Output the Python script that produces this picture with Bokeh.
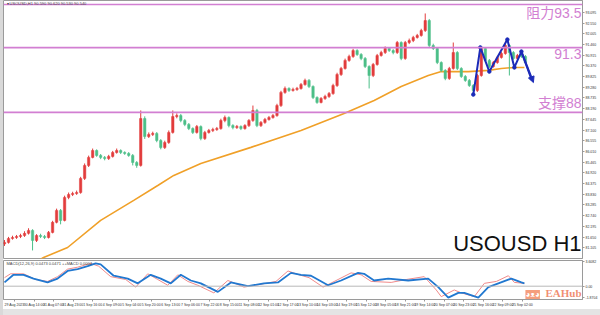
from bokeh.plotting import figure
from bokeh.models import (ColumnDataSource, Range1d, FixedTicker, Span, Label,
                          Arrow, NormalHead, Div, PrintfTickFormatter)
from bokeh.layouts import column, row
from bokeh.embed import file_html
from bokeh.resources import INLINE

# ---------------- data ----------------
first_open = 81.30
closes = [81.38, 81.58, 81.63, 81.68, 81.73, 81.84, 81.99, 81.48, 81.73, 81.68,
          81.63, 81.89, 82.40, 83.01, 82.50, 83.67, 83.82, 83.87, 83.92, 84.64,
          85.30, 85.71, 86.06, 85.81, 85.71, 85.65, 85.76, 85.96, 86.06, 85.96,
          85.91, 85.81, 85.45, 85.30, 87.69, 86.77, 86.88, 86.93, 86.57, 86.21,
          86.47, 86.98, 87.79, 87.84, 87.59, 87.39, 87.18, 86.98, 87.28, 86.67,
          86.98, 87.08, 87.13, 87.18, 87.59, 87.74, 87.33, 87.23, 87.28, 87.18,
          87.33, 87.59, 88.10, 87.33, 87.49, 87.64, 87.74, 87.84, 88.35, 89.02,
          89.22, 89.12, 89.17, 89.22, 89.42, 89.63, 89.32, 88.76, 88.51, 88.71,
          88.81, 88.96, 89.37, 89.93, 90.24, 90.65, 90.85, 91.15, 90.95, 90.75,
          90.34, 89.88, 90.44, 90.90, 91.05, 91.26, 91.15, 91.05, 91.56, 90.75,
          91.56, 91.66, 91.82, 91.92, 92.17, 92.68, 91.41, 91.26, 90.54, 90.14,
          89.73, 90.24, 91.05, 90.24, 89.83, 89.63, 89.37, 89.12, 89.88, 91.26,
          90.65, 90.34, 90.54, 90.80, 91.00, 91.41, 91.05, 90.75, 90.90, 90.85,
          90.54]
highs = [81.50, 81.66, 81.72, 81.76, 81.82, 81.95, 82.10, 82.05, 81.80, 81.82,
         81.76, 81.96, 82.48, 83.10, 83.08, 83.76, 83.92, 83.96, 84.02, 84.72,
         85.40, 85.80, 86.16, 86.12, 85.88, 85.78, 85.84, 86.04, 86.16, 86.12,
         86.02, 85.98, 85.88, 85.52, 88.10, 87.80, 86.98, 87.02, 87.00, 86.64,
         86.56, 87.08, 88.10, 87.95, 87.92, 87.66, 87.46, 87.24, 87.36, 87.34,
         87.06, 87.16, 87.22, 87.26, 87.68, 87.84, 87.80, 87.40, 87.36, 87.34,
         87.40, 87.66, 88.35, 88.18, 87.56, 87.72, 87.82, 87.92, 88.44, 89.10,
         89.32, 89.28, 89.26, 89.30, 89.50, 89.72, 89.70, 89.38, 88.82, 88.78,
         88.90, 89.04, 89.46, 90.02, 90.32, 90.74, 90.94, 91.24, 91.22, 91.02,
         90.82, 90.40, 90.52, 90.98, 91.14, 91.36, 91.32, 91.22, 91.64, 91.62,
         91.64, 91.76, 91.90, 92.00, 92.26, 93.04, 92.76, 91.50, 91.32, 90.60,
         90.20, 90.32, 91.56, 91.12, 90.30, 89.90, 89.70, 89.44, 89.96, 91.36,
         91.32, 90.72, 90.62, 90.88, 91.08, 91.62, 91.48, 91.12, 90.98, 90.98,
         90.92]
lows = [81.20, 81.32, 81.52, 81.56, 81.60, 81.66, 81.78, 80.97, 81.40, 81.60,
        81.55, 81.58, 81.84, 82.35, 82.30, 82.45, 83.58, 83.74, 83.80, 83.86,
        84.56, 85.22, 85.66, 85.74, 85.62, 85.56, 85.58, 85.70, 85.90, 85.88,
        85.84, 85.74, 85.30, 85.18, 85.24, 86.65, 86.70, 86.80, 86.48, 86.12,
        86.14, 86.40, 86.92, 87.70, 87.50, 87.30, 87.10, 86.90, 86.92, 86.58,
        86.60, 86.92, 87.00, 87.06, 87.12, 87.50, 87.24, 87.14, 87.16, 87.10,
        87.12, 87.26, 87.52, 87.25, 87.26, 87.42, 87.58, 87.68, 87.78, 88.28,
        88.95, 89.04, 89.06, 89.10, 89.16, 89.36, 89.24, 88.68, 88.44, 88.46,
        88.64, 88.74, 88.90, 89.30, 89.86, 90.18, 90.58, 90.78, 90.88, 90.66,
        90.26, 89.22, 89.80, 90.38, 90.84, 90.98, 91.08, 90.96, 90.98, 90.66,
        90.68, 91.48, 91.58, 91.76, 91.86, 92.10, 91.32, 91.18, 90.46, 90.06,
        89.64, 89.66, 90.18, 90.16, 89.76, 89.56, 89.30, 88.92, 89.04, 89.82,
        90.56, 90.26, 90.28, 90.48, 90.74, 90.94, 89.88, 90.68, 90.68, 90.78,
        90.46]

ma_idx = [6.5, 9.75, 15.75, 24, 32.25, 38.25, 42.25, 49, 61.5, 74, 84.75,
          92.25, 99, 105.75, 109, 115.75, 120.75, 124, 127.25, 129.75]
ma_val = [80.21, 80.61, 81.12, 82.50, 83.52, 84.28, 84.79, 85.40, 86.22, 87.08,
          87.95, 88.61, 89.32, 89.88, 90.08, 90.08, 90.14, 90.24, 90.29, 90.29]

macd_idx = [0, 2.25, 4.75, 7.25, 10.75, 13.25, 15.75, 18.25, 20.75, 22.75, 24,
            27.25, 30.75, 33.25, 36.5, 39, 41.5, 44, 46.5, 49, 53.25, 56.5,
            60.75, 64.75, 68.25, 71.5, 74, 76.5, 80.75, 84, 88.25, 89.75, 92.25,
            95.75, 100.75, 105.75, 108.25, 110.75, 113.25, 114.75, 118.25,
            120.75, 123.25, 126.5, 129, 129.75]
macd_val = [0.53, 1.60, 1.60, 1.07, 0.53, 1.07, 2.14, 2.40, 2.81, 3.21, 3.07,
            1.47, 1.07, 0.40, 1.60, 1.07, 0.40, 1.60, 0.80, 0.40, -0.80, 0.53,
            0.00, 0.40, 0.53, 1.87, 1.60, 1.47, 0.13, 0.80, 1.87, 1.74, 0.80,
            1.07, 0.80, 1.07, -0.13, -1.60, -0.94, -0.94, -1.60, -0.13, 0.40,
            1.07, 0.53, 0.40]
signal_idx = [0, 1.5, 4.75, 7.75, 10.75, 13.25, 15.75, 18.25, 21.5, 23.5, 26.5,
              30.25, 32.75, 35.75, 38.25, 40.75, 43.25, 45.75, 48.25, 52.25,
              55.75, 59.75, 64, 67.75, 70.75, 73.5, 76, 79.5, 83.25, 86.5, 89,
              91.5, 96.5, 100.25, 104.75, 107.75, 109, 112.25, 114, 117.25,
              119.75, 122.75, 125.75, 127.25, 129.75]
signal_val = [1.20, 1.74, 1.74, 0.94, 0.67, 1.34, 2.40, 2.67, 3.21, 2.81, 1.34,
              0.94, -0.13, 1.74, 0.94, 0.13, 1.60, 0.67, 0.13, -0.94, 0.80,
              -0.13, 0.27, 0.67, 2.14, 1.60, 1.20, -0.13, 0.94, 1.87, 1.60,
              0.67, 0.53, 0.94, 1.34, -0.53, -1.47, -0.53, -0.94, -1.47, 0.40,
              0.67, 1.47, 0.53, 0.40]

levels = [93.5, 91.3, 88.0]
level_texts = ["阻力93.5", "91.3", "支撑88"]

zig_idx = [117, 118.75, 121, 125.5, 127.25, 129, 132]
zig_val = [88.91, 91.31, 90.08, 91.71, 90.29, 91.10, 89.52]

price_ticks = [93.095, 92.550, 92.005, 91.460, 90.915, 90.370, 89.825, 89.280,
               88.735, 88.190, 87.645, 87.100, 86.555, 86.010, 85.465, 84.920,
               84.375, 83.830, 83.285, 82.740, 82.195, 81.650, 81.105]
date_pos = [2.5, 7.4, 12.25, 17.1, 22.0, 26.9, 31.75, 36.6, 41.5, 46.4, 51.25,
            56.1, 61.0, 65.9, 70.75, 75.6, 80.5, 85.4, 90.25, 95.1, 100.0,
            104.9, 109.75, 114.6, 119.5, 124.4, 129.25]
date_labels = ["29 Aug 2023", "30 Aug 14:00", "31 Aug 07:00", "31 Aug 23:00",
               "1 Sep 16:00", "4 Sep 09:00", "5 Sep 04:00", "5 Sep 20:00",
               "6 Sep 13:00", "7 Sep 06:00", "7 Sep 22:00", "8 Sep 15:00",
               "11 Sep 08:00", "12 Sep 01:00", "12 Sep 17:00", "13 Sep 10:00",
               "14 Sep 03:00", "14 Sep 19:00", "15 Sep 12:00", "18 Sep 05:00",
               "18 Sep 21:00", "19 Sep 14:00", "20 Sep 07:00", "20 Sep 23:00",
               "21 Sep 16:00", "22 Sep 09:00", "25 Sep 02:00"]
macd_ticks = {3.4: "3.6082", 0: "0.00", -1.6: "-1.8704"}

# ---------------- build ----------------
UP, DOWN = "#e23c3c", "#4cbf88"
LEVEL = "#d27fd2"
opens = [first_open] + closes[:-1]
idx = list(range(len(closes)))
mid = [(o + c) / 2 for o, c in zip(opens, closes)]
hgt = [max(abs(c - o), 0.03) for o, c in zip(opens, closes)]
col = [UP if c >= o else DOWN for o, c in zip(opens, closes)]
src = ColumnDataSource(dict(x=idx, o=opens, c=closes, h=highs, l=lows,
                            mid=mid, hgt=hgt, col=col))

xr = Range1d(-0.25, 144.25)
FONT = "Liberation Sans, Noto Sans CJK SC"

p = figure(width=597, height=259, x_range=xr, y_range=Range1d(80.56, 93.70),
           output_backend="svg", toolbar_location=None, y_axis_location="right",
           min_border_left=0, min_border_right=17, min_border_top=0,
           min_border_bottom=1)
p.xaxis.visible = False
p.grid.visible = False
p.outline_line_color = "#9a9a9a"
ax = p.yaxis[0]
ax.ticker = FixedTicker(ticks=price_ticks)
ax.formatter = PrintfTickFormatter(format="%.3f")
ax.major_label_text_font_size = "3.5px"
ax.major_label_text_color = "#333333"
ax.major_tick_out = 2
ax.major_tick_in = 0
ax.minor_tick_out = 0
ax.minor_tick_in = 0
ax.major_label_standoff = 1
ax.axis_line_color = "#9a9a9a"
ax.major_tick_line_color = "#9a9a9a"

for lv in levels:
    p.add_layout(Span(location=lv, dimension="width", line_color=LEVEL,
                      line_width=1.6))

p.line(ma_idx, ma_val, line_color="#f0a028", line_width=1.6)
p.segment(x0="x", y0="l", x1="x", y1="h", line_color="col", line_width=1,
          source=src)
p.rect(x="x", y="mid", width=0.6, height="hgt", fill_color="col",
       line_color="col", line_width=0.5, source=src)

p.line(zig_idx[:-1] + [zig_idx[-1] - 0.4], zig_val[:-1] + [zig_val[-1] + 0.12],
       line_color="#1c2bb8", line_width=2)
p.scatter(zig_idx[:-1], zig_val[:-1], size=3.5, color="#1c2bb8")
p.add_layout(Arrow(end=NormalHead(size=6, fill_color="#1c2bb8",
                                  line_color="#1c2bb8"),
                   x_start=zig_idx[-2], y_start=zig_val[-2],
                   x_end=zig_idx[-1], y_end=zig_val[-1],
                   line_color="#1c2bb8", line_width=2))

bases = ["top", "top", "bottom"]
offs = [-1, -1, 1]
for lv, t, b, o in zip(levels, level_texts, bases, offs):
    p.add_layout(Label(x=144.0, y=lv, y_offset=o, text=t, text_align="right",
                       text_baseline=b, text_font=FONT,
                       text_font_size="14px", text_color=LEVEL))

p.add_layout(Label(x=144.0, y=81.33, text="USOUSD H1", text_align="right",
                   text_baseline="middle", text_font=FONT,
                   text_font_size="22px", text_color="#111111"))
p.add_layout(Label(x=0.5, y=93.55, text="▾ USOUSD,H1  90.590 90.620 90.530 90.540",
                   text_baseline="middle", text_font=FONT,
                   text_font_size="4px", text_color="#444444"))

# ---- MACD panel ----
q = figure(width=597, height=50, x_range=xr, y_range=Range1d(-1.87, 3.61),
           output_backend="svg", toolbar_location=None, y_axis_location="right",
           min_border_left=0, min_border_right=17, min_border_top=1,
           min_border_bottom=9)
q.grid.visible = False
q.outline_line_color = "#9a9a9a"
q.add_layout(Span(location=0, dimension="width", line_color="#b8b8b8",
                  line_width=1))
q.line(signal_idx, signal_val, line_color="#f08a8a", line_width=1)
q.line(macd_idx, macd_val, line_color="#2178d0", line_width=1.8)
q.add_layout(Label(x=0.5, y=3.15, text="MACD(12,26,9) 0.0473 0.0471  ++MACD 0.0004",
                   text_baseline="middle", text_font=FONT,
                   text_font_size="4px", text_color="#444444"))

qy = q.yaxis[0]
qy.ticker = FixedTicker(ticks=list(macd_ticks.keys()))
qy.major_label_overrides = macd_ticks
qx = q.xaxis[0]
qx.ticker = FixedTicker(ticks=date_pos)
qx.major_label_overrides = dict(zip(date_pos, date_labels))
for a in (qx, qy):
    a.major_label_text_font_size = "3.5px"
    a.major_label_text_color = "#333333"
    a.major_tick_out = 2
    a.major_tick_in = 0
    a.minor_tick_out = 0
    a.minor_tick_in = 0
    a.major_label_standoff = 1
    a.axis_line_color = "#9a9a9a"
    a.major_tick_line_color = "#9a9a9a"

# EAHub watermark (icon + word), kept inside the panel
q.add_layout(Label(x=130.0, y=-1.8, text="◕ᴥ◕", text_align="left",
                   text_baseline="bottom", text_font_size="8px",
                   text_line_height=2.2, text_color="white",
                   background_fill_color="#f4946f",
                   background_fill_alpha=0.9))
q.add_layout(Label(x=144.0, y=-1.85, text="EAHub", text_align="right",
                   text_baseline="bottom", text_font="Liberation Serif",
                   text_font_size="11px", text_font_style="bold",
                   text_color="#ee7a58", text_alpha=0.85))

left = Div(width=3, height=315, styles={"background-color": "#d9d9d9"},
           margin=0)
bottom = Div(width=597, height=6, styles={"background-color": "#e4e4e4"},
             margin=0)
layout = row(left, column(p, q, bottom, spacing=0), spacing=0)

open("out.html", "w").write(file_html(layout, INLINE))
